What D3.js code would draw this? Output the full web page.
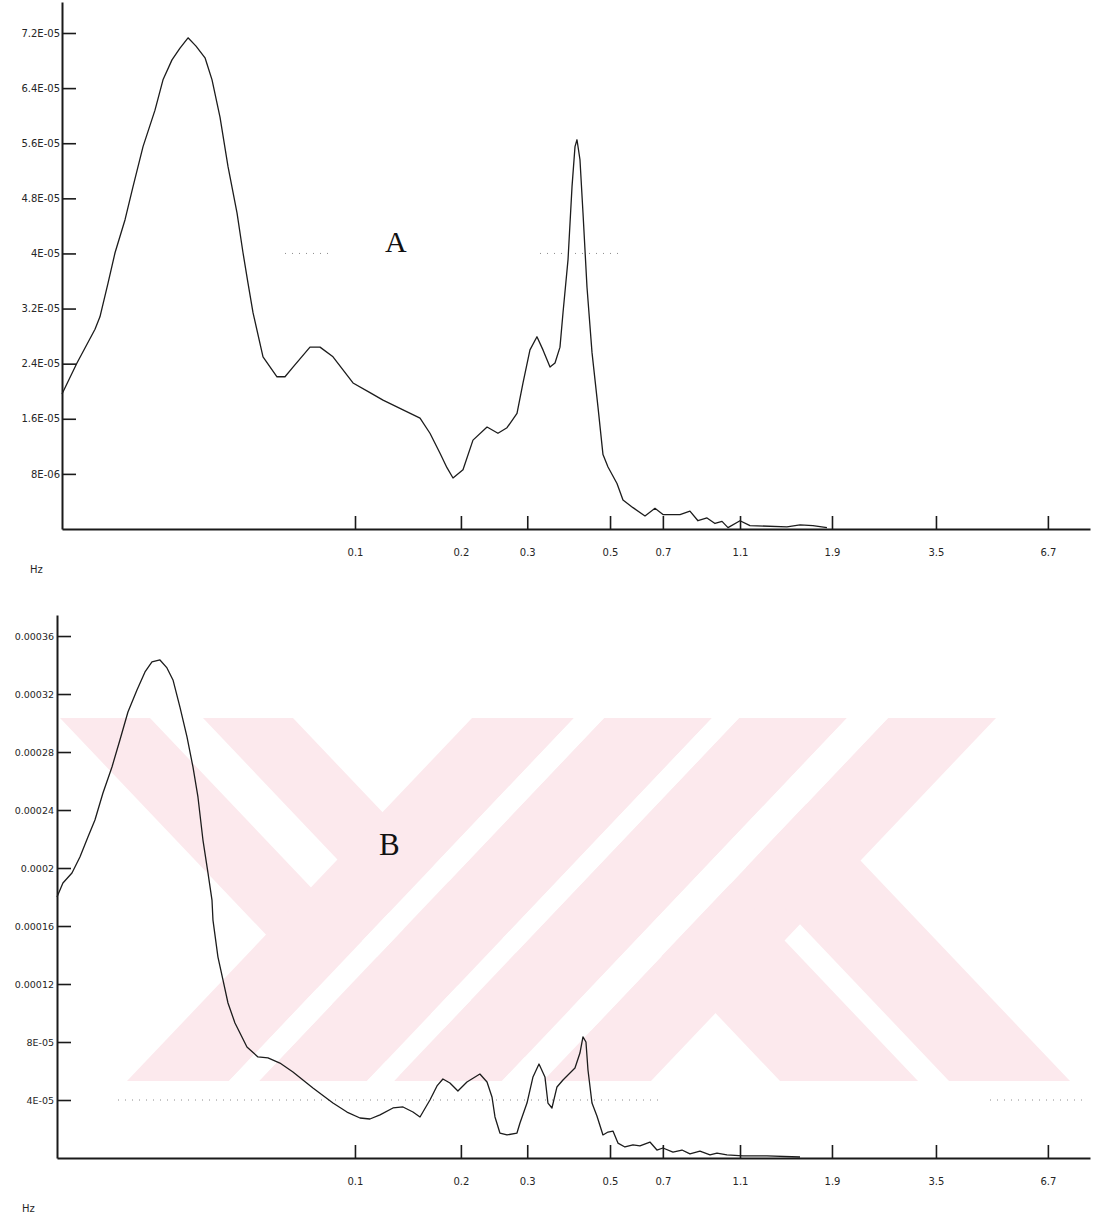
<!DOCTYPE html>
<meta charset="utf-8">
<style>
  body { margin: 0; padding: 0; background: #fff; }
  svg { display: block; }
  text { font-family: "DejaVu Sans", sans-serif; fill: #262626; }
  .panel-letter { font-family: "Liberation Serif", serif; fill: #111; }
</style>
<script src="https://d3js.org/d3.v7.min.js"></script>
<body>
<div id="chart"></div>
<script>

// ---- data (frequency in Hz, power) ----
var freqA = [
  0.01694, 0.01855, 0.02069, 0.02132, 0.02239, 0.02336, 0.02482, 0.02605, 0.02768, 0.02976,
  0.03124, 0.03299, 0.03463, 0.03636, 0.03816, 0.0403, 0.04205, 0.04413, 0.04633, 0.04892,
  0.05073, 0.05229, 0.0539, 0.05727, 0.06233, 0.06543, 0.06868, 0.07612, 0.08089, 0.08752,
  0.0988, 0.1095, 0.1185, 0.1338, 0.1483, 0.1575, 0.1674, 0.1746, 0.1811, 0.1924,
  0.2044, 0.2226, 0.2378, 0.2512, 0.2669, 0.2768, 0.2887, 0.3012, 0.3124, 0.326,
  0.336, 0.3463, 0.3527, 0.3636, 0.3725, 0.3793, 0.3839, 0.3909, 0.3981, 0.4079,
  0.4205, 0.436, 0.4494, 0.4633, 0.4892, 0.5073, 0.539, 0.5797, 0.6158, 0.6464,
  0.7166, 0.7612, 0.7991, 0.844, 0.886, 0.9244, 0.9585, 1.031, 1.095, 1.37,
  1.483, 1.604, 1.746
];
var psdA = [
  1.96e-5, 2.41e-5, 2.90e-5, 3.08e-5, 3.57e-5, 4.01e-5, 4.49e-5, 4.97e-5, 5.55e-5, 6.08e-5,
  6.52e-5, 6.81e-5, 6.98e-5, 7.13e-5, 7.01e-5, 6.84e-5, 6.52e-5, 5.98e-5, 5.26e-5, 4.59e-5,
  4.01e-5, 3.57e-5, 3.14e-5, 2.50e-5, 2.21e-5, 2.21e-5, 2.35e-5, 2.64e-5, 2.64e-5, 2.50e-5,
  2.12e-5, 1.98e-5, 1.87e-5, 1.73e-5, 1.61e-5, 1.39e-5, 1.10e-5, 0.89e-5, 0.74e-5, 0.86e-5,
  1.29e-5, 1.48e-5, 1.39e-5, 1.47e-5, 1.68e-5, 2.12e-5, 2.60e-5, 2.79e-5, 2.60e-5, 2.35e-5,
  2.41e-5, 2.64e-5, 3.14e-5, 3.91e-5, 4.97e-5, 5.55e-5, 5.65e-5, 5.36e-5, 4.59e-5, 3.51e-5,
  2.56e-5, 1.77e-5, 1.08e-5, 0.90e-5, 0.66e-5, 0.42e-5, 0.31e-5, 0.19e-5, 0.30e-5, 0.21e-5,
  0.21e-5, 0.26e-5, 0.12e-5, 0.16e-5, 0.08e-5, 0.11e-5, 0.02e-5, 0.12e-5, 0.05e-5, 0.03e-5,
  0.06e-5, 0.05e-5, 0.02e-5
];

var freqB = [
  0.01644, 0.01704, 0.0180, 0.01889, 0.01983, 0.02069, 0.02172, 0.02294, 0.02407, 0.02527,
  0.02669, 0.02802, 0.02923, 0.03068, 0.03201, 0.0332, 0.03463, 0.03614, 0.03747, 0.03862,
  0.03981, 0.04104, 0.04205, 0.0423, 0.0436, 0.04494, 0.04633, 0.04833, 0.05197, 0.05555,
  0.05903, 0.06346, 0.06868, 0.07752, 0.08752, 0.09527, 0.1031, 0.1095, 0.1164, 0.1259,
  0.1338, 0.1421, 0.1483, 0.1575, 0.1644, 0.1704, 0.1778, 0.1866, 0.1971, 0.2132,
  0.2226, 0.2294, 0.2336, 0.2407, 0.2512, 0.2669, 0.2718, 0.2836, 0.2941, 0.305,
  0.3162, 0.322, 0.3299, 0.3401, 0.3527, 0.3793, 0.3909, 0.3981, 0.4054, 0.4104,
  0.4205, 0.4333, 0.4494, 0.4633, 0.4775, 0.4921, 0.5134, 0.539, 0.5623, 0.5974,
  0.6233, 0.6464, 0.6868, 0.7254, 0.7612, 0.8089, 0.8596, 0.8967, 0.9526, 1.049,
  1.214, 1.483
];
var psdB = [
  18.00e-5, 18.97e-5, 19.66e-5, 20.76e-5, 22.14e-5, 23.31e-5, 25.17e-5, 26.97e-5, 28.83e-5, 30.76e-5,
  32.28e-5, 33.52e-5, 34.21e-5, 34.35e-5, 33.80e-5, 32.97e-5, 31.10e-5, 29.04e-5, 26.97e-5, 24.90e-5,
  21.93e-5, 19.66e-5, 17.79e-5, 16.41e-5, 13.86e-5, 12.28e-5, 10.69e-5, 9.31e-5, 7.66e-5, 6.97e-5,
  6.90e-5, 6.55e-5, 5.93e-5, 4.83e-5, 3.79e-5, 3.17e-5, 2.76e-5, 2.69e-5, 2.97e-5, 3.45e-5,
  3.52e-5, 3.17e-5, 2.83e-5, 4.00e-5, 4.97e-5, 5.45e-5, 5.17e-5, 4.62e-5, 5.24e-5, 5.79e-5,
  5.24e-5, 4.21e-5, 2.83e-5, 1.72e-5, 1.59e-5, 1.72e-5, 2.41e-5, 3.79e-5, 5.59e-5, 6.48e-5,
  5.59e-5, 3.79e-5, 3.45e-5, 4.90e-5, 5.38e-5, 6.21e-5, 7.24e-5, 8.35e-5, 8.00e-5, 6.07e-5,
  3.79e-5, 2.90e-5, 1.59e-5, 1.79e-5, 1.86e-5, 1.03e-5, 0.76e-5, 0.90e-5, 0.83e-5, 1.10e-5,
  0.55e-5, 0.69e-5, 0.41e-5, 0.55e-5, 0.28e-5, 0.48e-5, 0.21e-5, 0.34e-5, 0.21e-5, 0.14e-5,
  0.14e-5, 0.07e-5
];

// x ticks: where they really sit on the log axis, and the (rounded) labels printed under them
var xTickValues = [0.1, 0.19, 0.284, 0.469, 0.646, 1.031, 1.80, 3.38, 6.66];
var xTickLabels = ["0.1", "0.2", "0.3", "0.5", "0.7", "1.1", "1.9", "3.5", "6.7"];

var yTicksA = [8e-6, 1.6e-5, 2.4e-5, 3.2e-5, 4e-5, 4.8e-5, 5.6e-5, 6.4e-5, 7.2e-5];
var yLabelsA = ["8E-06", "1.6E-05", "2.4E-05", "3.2E-05", "4E-05", "4.8E-05", "5.6E-05", "6.4E-05", "7.2E-05"];
var yTicksB = [4e-5, 8e-5, 1.2e-4, 1.6e-4, 2e-4, 2.4e-4, 2.8e-4, 3.2e-4, 3.6e-4];
var yLabelsB = ["4E-05", "8E-05", "0.00012", "0.00016", "0.0002", "0.00024", "0.00028", "0.00032", "0.00036"];

var W = 1094, H = 1220;

var svg = d3.select("#chart")
  .append("svg")
    .attr("width", W)
    .attr("height", H);

svg.append("rect").attr("width", W).attr("height", H).attr("fill", "#fff");

// pale pink watermark behind the lower panel (came with the scanned page)
function drawWatermark() {
  var top = 718, bot = 1081, s = 345;
  var pink = "#fce9ed";
  var g = svg.append("g").attr("fill", pink);
  var yAt = function(t) { return top + t * (bot - top); };
  var quad = function(a, b, c, d) { return [a, b, c, d].join(" "); };

  // "\" bands, x at the top
  [[60, 150], [203, 293]].forEach(function(b) {
    g.append("polygon").attr("points",
      quad([b[0], top], [b[1], top], [b[1] + s, bot], [b[0] + s, bot]));
  });
  // "/" bands, x at the top
  var slash = [[472, 574], [604, 712], [739, 847], [888, 996]];
  slash.forEach(function(b) {
    g.append("polygon").attr("points",
      quad([b[0], top], [b[1], top], [b[1] - s, bot], [b[0] - s, bot]));
  });
  // white gaps between the "/" bands run through everything
  for (var i = 0; i < slash.length - 1; i++) {
    var a = slash[i][1], c = slash[i + 1][0];
    svg.append("polygon").attr("fill", "#fff").attr("points",
      quad([a, top], [c, top], [c - s, bot], [a - s, bot]));
  }
  // "\" legs growing out of the last "/" band, x at the bottom
  var edge = slash[3][0];
  var g2 = svg.append("g").attr("fill", pink);
  [[780, 918], [949, 1070]].forEach(function(b) {
    var l0 = b[0] - s, r0 = b[1] - s;
    var tl = (edge - l0) / (2 * s), tr = (edge - r0) / (2 * s);
    g2.append("polygon").attr("points",
      quad([r0 + s * tr, yAt(tr)], [b[1], bot], [b[0], bot], [l0 + s * tl, yAt(tl)]));
  });
}

function drawPanel(cfg, freq, psd, yTicks, yLabels) {
  var data = freq.map(function(f, i) { return {f: f, v: psd[i]}; });

  var x = d3.scaleLog().domain([cfg.fMin, 8.596]).range([cfg.left, 1090]);
  var y = d3.scaleLinear().domain([0, cfg.yMax]).range([cfg.bottom, cfg.top]);

  var g = svg.append("g");

  // faint dotted grid remnants left in the scan
  cfg.dots.forEach(function(seg) {
    g.append("line")
      .attr("x1", seg[0]).attr("x2", seg[1])
      .attr("y1", y(4e-5)).attr("y2", y(4e-5))
      .attr("stroke", "#8c8c8c").attr("stroke-width", 1)
      .attr("stroke-dasharray", "1,6");
  });

  // X axis, ticks pointing up
  var xa = g.append("g")
    .attr("transform", "translate(0," + cfg.bottom + ")")
    .call(d3.axisBottom(x)
      .tickValues(xTickValues)
      .tickFormat(function(d, i) { return xTickLabels[i]; })
      .tickSize(-13).tickSizeOuter(0).tickPadding(20));
  xa.select(".domain").attr("stroke", "#1a1a1a").attr("stroke-width", 1.8);
  xa.selectAll(".tick line").attr("stroke", "#1a1a1a").attr("stroke-width", 1.6);
  xa.selectAll(".tick text").attr("font-size", 10).attr("fill", "#262626")
    .attr("font-family", "DejaVu Sans, sans-serif");

  // Y axis, ticks pointing right, labels flush with the axis
  var ya = g.append("g")
    .attr("transform", "translate(" + cfg.left + ",0)")
    .call(d3.axisLeft(y)
      .tickValues(yTicks)
      .tickFormat(function(d, i) { return yLabels[i]; })
      .tickSize(-14).tickSizeOuter(0).tickPadding(cfg.yPad));
  ya.select(".domain").attr("stroke", "#1a1a1a").attr("stroke-width", 2);
  ya.selectAll(".tick line").attr("stroke", "#1a1a1a").attr("stroke-width", 1.6);
  ya.selectAll(".tick text").attr("font-size", cfg.yFont).attr("fill", "#262626")
    .attr("font-family", "DejaVu Sans, sans-serif");

  // spectrum
  var line = d3.line()
    .x(function(d) { return x(d.f); })
    .y(function(d) { return y(d.v); });
  g.append("path")
    .datum(data)
    .attr("d", line)
    .attr("fill", "none")
    .attr("stroke", "#1c1c1c")
    .attr("stroke-width", 1.3)
    .attr("stroke-linejoin", "round");

  g.append("text")
    .attr("x", cfg.hzX).attr("y", cfg.hzY)
    .attr("font-size", 10)
    .text("Hz");

  g.append("text")
    .attr("class", "panel-letter")
    .attr("x", cfg.letterX).attr("y", cfg.letterY)
    .attr("font-size", cfg.letterSize)
    .text(cfg.letter);
}

drawWatermark();

drawPanel({left: 62, top: 2, bottom: 529, fMin: 0.01694, yMax: 7.65e-5, yPad: 2, yFont: 10,
           dots: [[285, 330], [540, 620]],
           hzX: 30, hzY: 573, letter: "A", letterX: 385, letterY: 252, letterSize: 30},
          freqA, psdA, yTicksA, yLabelsA);

drawPanel({left: 57, top: 615, bottom: 1158, fMin: 0.01644, yMax: 3.745e-4, yPad: 3, yFont: 9.5,
           dots: [[118, 660], [990, 1085]],
           hzX: 22, hzY: 1212, letter: "B", letterX: 379, letterY: 855, letterSize: 31},
          freqB, psdB, yTicksB, yLabelsB);

</script>
</body>
